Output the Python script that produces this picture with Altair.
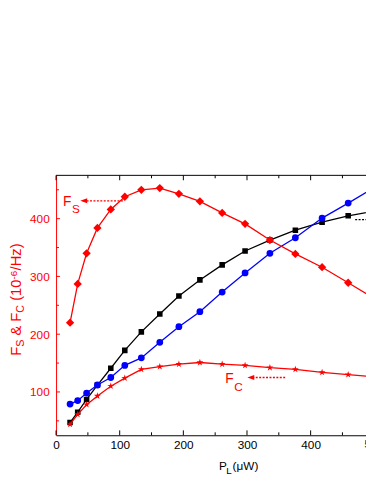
import altair as alt
import pandas as pd

# ---- data ----
P_L = [22, 34, 48, 65, 86, 108, 134, 163, 193, 226, 261, 297, 336, 376, 418, 459, 500]
F_S = [220, 287, 340, 384, 416, 438, 450, 453, 443, 430, 410, 391, 363, 339, 316, 289, 262]
F_C = [44, 61, 78, 93, 110, 124, 139, 144, 148, 151, 148, 146, 142, 139, 134, 130, 126]
F_BLACK = [47, 65, 87, 112, 141, 172, 204, 235, 266, 294, 320, 344, 363, 380, 394, 405, 413]
F_BLUE = [79, 85, 98, 112, 125, 146, 159, 186, 213, 239, 273, 306, 340, 367, 401, 427, 454]

X_LABELS = [0, 100, 200, 300, 400]
X_MINOR = [50, 150, 250, 350, 450]
Y_LABELS = [100, 200, 300, 400]
Y_MINOR = [50, 150, 250, 350, 450]

W, H = 316, 265
FONT = "Liberation Sans"
RED = "#ff0000"
BLUE = "#0000ff"

xs = alt.Scale(domain=[0, 487], nice=False, zero=False)
ys = alt.Scale(domain=[25, 475], nice=False, zero=False)

xaxis = alt.Axis(values=X_LABELS, tickSize=0, labelPadding=4, labelFontSize=12, labelFont=FONT,
                 labelColor="black", domainColor="black", domainWidth=1, grid=False, title=None,
                 labelFlush=False, format="d")
yaxis = alt.Axis(values=Y_LABELS, tickSize=0, labelPadding=7, labelFontSize=12, labelFont=FONT,
                 labelColor=RED, domainColor=RED, domainWidth=1, grid=False, title=None, format="d")


def X(f="x"):
    return alt.X(f"{f}:Q", scale=xs, axis=xaxis)


def Y(f="y"):
    return alt.Y(f"{f}:Q", scale=ys, axis=yaxis)


STAR = ("M0,-1L0.2245,-0.309L0.9511,-0.309L0.3633,0.118L0.5878,0.809L0,0.382"
        "L-0.5878,0.809L-0.3633,0.118L-0.9511,-0.309L-0.2245,-0.309Z")
ARROW_L = "M-1,0L1,-0.75L1,0.75Z"


def series(vals, color, shape, size):
    d = pd.DataFrame({"x": P_L, "y": vals})
    base = alt.Chart(d)
    line = base.mark_line(color=color, strokeWidth=1.3, clip=True).encode(x=X(), y=Y())
    pts = base.mark_point(shape=shape, size=size, filled=True, color=color, opacity=1,
                          strokeWidth=0, clip=True).encode(x=X(), y=Y())
    return [line, pts]


layers = []
layers += series(F_BLACK, "black", "square", 32)
layers += series(F_BLUE, BLUE, "circle", 48)
layers += series(F_C, RED, STAR, 55)
layers += series(F_S, RED, "diamond", 72)

one = pd.DataFrame({"a": [0]})

# frame: top line
layers.append(alt.Chart(one).mark_rule(color="black", strokeWidth=1).encode(
    x=alt.value(0), x2=alt.value(W), y=alt.value(0)))


# inward ticks
def xticks(vals, length):
    d = pd.DataFrame({"x": vals})
    b = alt.Chart(d).mark_rule(color="black", strokeWidth=1)
    return [b.encode(x=X(), y=alt.value(H), y2=alt.value(H - length)),
            b.encode(x=X(), y=alt.value(0), y2=alt.value(length))]


def yticks(vals, length):
    d = pd.DataFrame({"y": vals})
    return [alt.Chart(d).mark_rule(color=RED, strokeWidth=1).encode(
        y=Y(), x=alt.value(0), x2=alt.value(length))]


layers += xticks(X_LABELS, 5) + xticks(X_MINOR, 3)
layers += yticks(Y_LABELS, 4) + yticks(Y_MINOR, 3)

# partially visible "500" label at the cut edge
layers.append(alt.Chart(pd.DataFrame({"x": [500]})).mark_text(
    baseline="top", align="center", fontSize=12, font=FONT, color="black").encode(
    x=X(), y=alt.value(H + 4), text=alt.value("500")))


# annotations (data coordinates)
def text_at(x, y, s, size, color=RED):
    return alt.Chart(pd.DataFrame({"x": [x], "y": [y]})).mark_text(
        align="left", baseline="alphabetic", fontSize=size, font=FONT, color=color).encode(
        x=X(), y=Y(), text=alt.value(s))


def dashed(x1, x2, y, color=RED):
    return alt.Chart(pd.DataFrame({"x": [x1], "x2": [x2], "y": [y]})).mark_rule(
        color=color, strokeWidth=1.3, strokeDash=[2, 1.5], clip=True).encode(
        x=X(), x2=alt.X2("x2:Q"), y=Y())


def head(x, y, color=RED):
    return alt.Chart(pd.DataFrame({"x": [x], "y": [y]})).mark_point(
        shape=ARROW_L, size=49, filled=True, color=color, opacity=1, strokeWidth=0).encode(
        x=X(), y=Y())


layers += [text_at(11, 422, "F", 14), text_at(25, 410, "S", 12),
           dashed(105, 48, 431), head(43.5, 431)]
layers += [text_at(266, 115.5, "F", 14), text_at(280, 101, "C", 12),
           dashed(360, 310, 125), head(306, 125)]
layers += [dashed(470, 487, 398.5, "black")]


# y-axis title pieces (rotated), pixel positions outside the plot
def vtext(s, x, y, size):
    return alt.Chart(one).mark_text(angle=270, align="left", baseline="alphabetic",
                                    fontSize=size, font=FONT, color=RED).encode(
        x=alt.value(x), y=alt.value(y), text=alt.value(s))


TB = -35.5
layers += [vtext("F", TB, 184, 15), vtext("S", TB + 3, 174.8, 11),
           vtext("& F", TB, 163.3, 15), vtext("C", TB + 3, 140, 11),
           vtext("(10", TB, 127.9, 15), vtext("-6", TB - 4.5, 106.2, 10),
           vtext("/Hz)", TB, 96.9, 15)]


# x-axis title pieces
def htext(s, x, y, size):
    return alt.Chart(one).mark_text(align="left", baseline="alphabetic",
                                    fontSize=size, font=FONT, color="black").encode(
        x=alt.value(x), y=alt.value(y), text=alt.value(s))


layers += [htext("P", 166, 300, 12), htext("L", 173.5, 304, 10), htext("(\u03bcW)", 180, 300, 12)]

chart = alt.layer(*layers).properties(
    width=W, height=H,
    autosize=alt.AutoSizeParams(type="none"),
    padding={"left": 49, "top": 166, "right": 0, "bottom": 42},
).configure_view(stroke="transparent")

chart.save("out.html", embed_options={"renderer": "svg", "actions": False})
